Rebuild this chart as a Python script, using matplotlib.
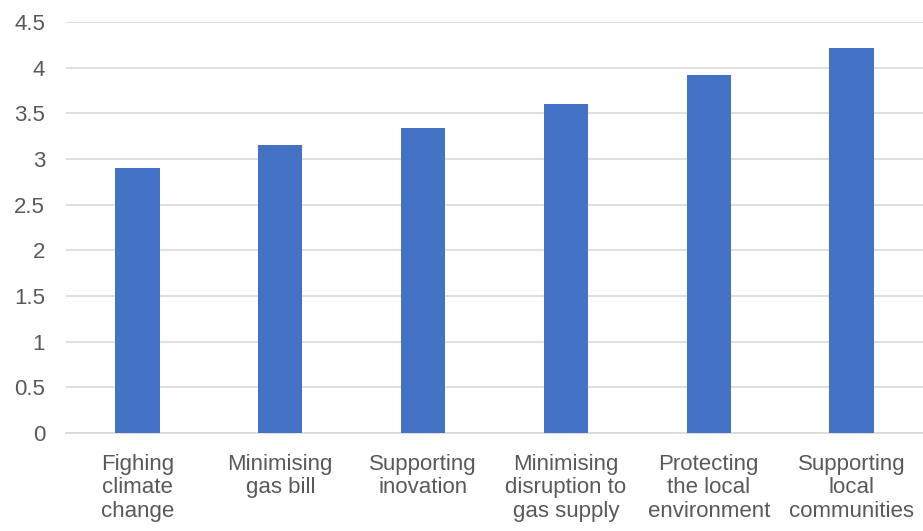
import matplotlib
matplotlib.use("Agg")
import matplotlib.pyplot as plt

categories = ["Fighing\nclimate\nchange", "Minimising\ngas bill", "Supporting\ninovation",
              "Minimising\ndisruption to\ngas supply", "Protecting\nthe local\nenvironment",
              "Supporting\nlocal\ncommunities"]
values = [2.90, 3.15, 3.34, 3.60, 3.92, 4.22]
yticks = [0, 0.5, 1, 1.5, 2, 2.5, 3, 3.5, 4, 4.5]
ytick_labels = ["0", "0.5", "1", "1.5", "2", "2.5", "3", "3.5", "4", "4.5"]

plt.rcParams['font.family'] = ['Liberation Sans', 'DejaVu Sans']

fig = plt.figure(figsize=(9.23, 5.31), dpi=100)
ax = fig.add_axes([66/923, (531-433)/531, 1 - 66/923, (433-22)/531])

x = list(range(len(categories)))
ax.bar(x, values, width=0.31, color="#4472C4", zorder=3)
ax.set_xlim(-0.5, len(categories) - 0.5)
ax.set_ylim(0, 4.5)
ax.set_yticks(yticks)
ax.set_yticklabels(ytick_labels)
ax.set_xticks(x)
ax.set_xticklabels(categories, linespacing=1.16)
ax.grid(axis='y', color="#D9D9D9", linewidth=1.2, zorder=0)
for s in ["top", "right", "left"]:
    ax.spines[s].set_visible(False)
ax.spines["bottom"].set_color("#D9D9D9")
ax.spines["bottom"].set_linewidth(1.2)
ax.tick_params(axis='both', length=0, labelcolor="#595959")
ax.tick_params(axis='x', labelsize=16, pad=15)
ax.tick_params(axis='y', labelsize=16, pad=15)

fig.savefig("out.png", dpi=100)
